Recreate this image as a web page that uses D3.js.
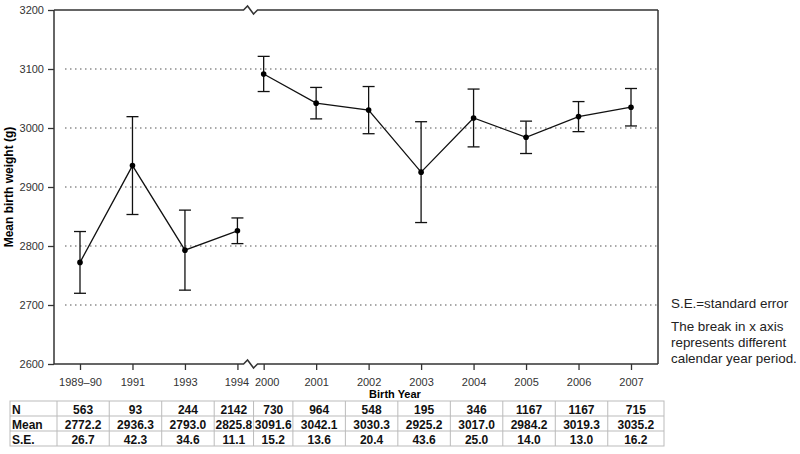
<!DOCTYPE html>
<html>
<head>
<meta charset="utf-8">
<script src="https://cdn.jsdelivr.net/npm/d3@7"></script>
<style>
  body { margin: 0; background: #fff; }
  svg { font-family: "Liberation Sans", Arial, sans-serif; }
</style>
</head>
<body>
<script>
// birth year groups, the break sits between 1994 and 2000
const years = ["1989\u201390", "1991", "1993", "1994", "2000", "2001", "2002", "2003", "2004", "2005", "2006", "2007"];
const counts = [563, 93, 244, 2142, 730, 964, 548, 195, 346, 1167, 1167, 715];
const means = [2772.2, 2936.3, 2793.0, 2825.8, 3091.6, 3042.1, 3030.3, 2925.2, 3017.0, 2984.2, 3019.3, 3035.2];
const stdErrs = [26.7, 42.3, 34.6, 11.1, 15.2, 13.6, 20.4, 43.6, 25.0, 14.0, 13.0, 16.2];
const yTicks = [2600, 2700, 2800, 2900, 3000, 3100, 3200];
const gridTicks = [2700, 2800, 2900, 3000, 3100];
const breakAfter = 3; // index of last year before the break

const w = 800, h = 454;
const pLeft = 54, pRight = 658, pTop = 10, pBottom = 364;

const svg = d3.select("body").append("svg")
    .attr("width", w)
    .attr("height", h);

// position along x: half a step lost at the break
const pos = i => i > breakAfter ? i - 0.5 : i;
const x = d3.scaleLinear().domain([0, pos(years.length - 1)]).range([80, 631]);
const y = d3.scaleLinear().domain([2600, 3200]).range([pBottom, pTop]);

const data = years.map((yr, i) => ({
    year: yr, i: i, n: counts[i], mean: means[i], se: stdErrs[i],
    lo: means[i] - 1.96 * stdErrs[i], hi: means[i] + 1.96 * stdErrs[i]
}));

// dotted grid
svg.selectAll(".grid")
    .data(gridTicks)
    .enter().append("line")
    .attr("x1", 65).attr("x2", pRight)
    .attr("y1", d => y(d)).attr("y2", d => y(d))
    .style("stroke", "#555")
    .style("stroke-width", 1.2)
    .style("stroke-dasharray", "1.5,3.5");

// y axis
const yAxis = d3.axisLeft(y).tickValues(yTicks).tickSize(6).tickPadding(4).tickFormat(d3.format("d"));
const gy = svg.append("g")
    .attr("transform", `translate(${pLeft},0)`)
    .call(yAxis);
gy.select(".domain").remove();
gy.selectAll("line").style("stroke", "#333").style("stroke-width", 1.3);
gy.selectAll("text").style("font-size", "11px").style("fill", "#333");

// x axis ticks
const gx = svg.append("g")
    .attr("transform", `translate(0,${pBottom})`)
    .call(d3.axisBottom(x).tickValues(years.map((d, i) => pos(i))).tickSize(6).tickPadding(8)
        .tickFormat((d, i) => years[i]));
gx.select(".domain").remove();
gx.selectAll("line").style("stroke", "#333").style("stroke-width", 1.3);
gx.selectAll("text").style("font-size", "11px").style("fill", "#333");
// nudge the two labels either side of the break apart
gx.selectAll(".tick text")
    .attr("dx", (d, i) => i === breakAfter ? -1 : i === breakAfter + 1 ? 3 : 0);

// frame with break marks on top and bottom
const bx = (x(pos(breakAfter)) + x(pos(breakAfter + 1))) / 2;
function brokenLine(yy) {
    return `M${pLeft},${yy}H${bx - 7}L${bx - 3},${yy - 4}L${bx + 3},${yy + 4}L${bx + 7},${yy}H${pRight}`;
}
const frame = svg.append("g")
    .style("fill", "none")
    .style("stroke", "#333")
    .style("stroke-width", 1.5);
frame.append("path").attr("d", brokenLine(pTop));
frame.append("path").attr("d", brokenLine(pBottom));
frame.append("line").attr("x1", pLeft).attr("x2", pLeft).attr("y1", pTop).attr("y2", pBottom);
frame.append("line").attr("x1", pRight).attr("x2", pRight).attr("y1", pTop).attr("y2", pBottom);

// mean line, separate before and after the break
const line = d3.line().x(d => x(pos(d.i))).y(d => y(d.mean));
[data.slice(0, breakAfter + 1), data.slice(breakAfter + 1)].forEach(seg => {
    svg.append("path")
        .datum(seg)
        .attr("d", line)
        .style("fill", "none")
        .style("stroke", "#111")
        .style("stroke-width", 1.3);
});

// error bars (95% CI)
const bars = svg.selectAll(".err")
    .data(data)
    .enter().append("g")
    .attr("class", "err")
    .style("stroke", "#111")
    .style("stroke-width", 1.3);
bars.append("line")
    .attr("x1", d => x(pos(d.i))).attr("x2", d => x(pos(d.i)))
    .attr("y1", d => y(d.lo)).attr("y2", d => y(d.hi));
bars.append("line")
    .attr("x1", d => x(pos(d.i)) - 6).attr("x2", d => x(pos(d.i)) + 6)
    .attr("y1", d => y(d.hi)).attr("y2", d => y(d.hi));
bars.append("line")
    .attr("x1", d => x(pos(d.i)) - 6).attr("x2", d => x(pos(d.i)) + 6)
    .attr("y1", d => y(d.lo)).attr("y2", d => y(d.lo));

svg.selectAll(".pt")
    .data(data)
    .enter().append("circle")
    .attr("cx", d => x(pos(d.i)))
    .attr("cy", d => y(d.mean))
    .attr("r", 2.8)
    .style("fill", "#000");

// axis titles
svg.append("text")
    .attr("transform", `translate(13,${(pTop + pBottom) / 2}) rotate(-90)`)
    .attr("text-anchor", "middle")
    .style("font-size", "12px")
    .style("font-weight", "bold")
    .text("Mean birth weight (g)");

svg.append("text")
    .attr("x", 395).attr("y", 398)
    .attr("text-anchor", "middle")
    .style("font-size", "11px")
    .style("font-weight", "bold")
    .text("Birth Year");

// table below the axis
const rowLabels = ["N", "Mean", "S.E."];
const rowValues = [counts.map(String), means.map(d => d.toFixed(1)), stdErrs.map(d => d.toFixed(1))];
const tTop = 401, rowH = 15, tLeft = 10;
const edges = [x(pos(0)) - 23];
for (let i = 0; i < years.length - 1; i++) edges.push((x(pos(i)) + x(pos(i + 1))) / 2 + 3);
edges.push(x(pos(years.length - 1)) + 33);
const tRight = edges[edges.length - 1];

const table = svg.append("g");
table.append("rect")
    .attr("x", tLeft).attr("y", tTop)
    .attr("width", tRight - tLeft).attr("height", rowH * 3)
    .style("fill", "none").style("stroke", "#bbb");
[1, 2].forEach(r => {
    table.append("line")
        .attr("x1", tLeft).attr("x2", tRight)
        .attr("y1", tTop + r * rowH).attr("y2", tTop + r * rowH)
        .style("stroke", "#bbb");
});
edges.slice(0, -1).forEach(e => {
    table.append("line")
        .attr("x1", e).attr("x2", e)
        .attr("y1", tTop).attr("y2", tTop + rowH * 3)
        .style("stroke", "#bbb");
});
rowLabels.forEach((lab, r) => {
    table.append("text")
        .attr("x", tLeft + 2).attr("y", tTop + (r + 1) * rowH - 2.5)
        .style("font-size", "12px").style("font-weight", "bold").style("fill", "#111")
        .text(lab);
    table.selectAll(".c" + r)
        .data(rowValues[r])
        .enter().append("text")
        .attr("x", (d, i) => (edges[i] + edges[i + 1]) / 2)
        .attr("y", tTop + (r + 1) * rowH - 2.5)
        .attr("text-anchor", "middle")
        .style("font-size", "12px").style("font-weight", "bold").style("fill", "#111")
        .text(d => d);
});

// notes on the right
const notes = [["S.E.=standard error", 308], ["The break in x axis", 331], ["represents different", 347], ["calendar year period.", 363]];
svg.selectAll(".note")
    .data(notes)
    .enter().append("text")
    .attr("x", 671).attr("y", d => d[1])
    .style("font-size", "13.4px").style("fill", "#222")
    .text(d => d[0]);
</script>
</body>
</html>
